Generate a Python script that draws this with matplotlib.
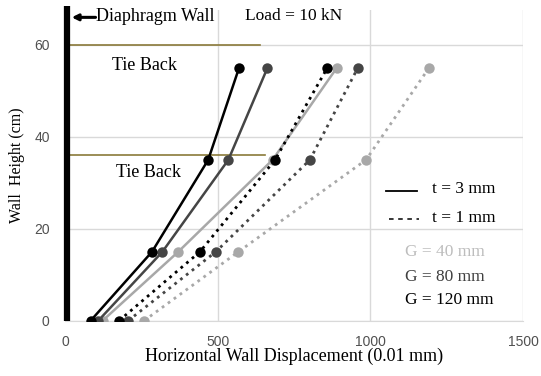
import matplotlib
matplotlib.use("Agg")
import matplotlib.pyplot as plt

# Wall height (cm) of the measuring points
heights = [0, 15, 35, 55]

# Horizontal displacement (0.01 mm) for each test case
t3_g120 = [84, 285, 469, 570]
t3_g80 = [109, 319, 535, 663]
t3_g40 = [123, 371, 680, 890]
t1_g120 = [177, 442, 688, 859]
t1_g80 = [207, 494, 802, 959]
t1_g40 = [259, 568, 986, 1192]

tie_back_levels = [60, 36]
tie_back_ends = [640, 655]

x_ticks = [0, 500, 1000, 1500]
y_ticks = [0, 20, 40, 60]

BLACK = "#000000"
DARK = "#454545"
LIGHT = "#a8a8a8"
SERIF = "Liberation Serif"
SANS = "Liberation Sans"

fig = plt.figure(figsize=(5.41, 3.76), dpi=100)
ax = fig.add_axes([65 / 541, 55.3 / 376, (523 - 65) / 541, (320.7 - 10) / 376])
ax.set_xlim(0, 1500)
ax.set_ylim(0, 67.6)

ax.set_xticks(x_ticks)
ax.set_yticks(y_ticks)
ax.grid(True, color="#d9d9d9", linewidth=1.0)
ax.set_axisbelow(True)
for side in ["top", "right", "left"]:
    ax.spines[side].set_visible(False)
ax.spines["bottom"].set_color("#d9d9d9")
ax.tick_params(axis="x", length=0, labelsize=10, colors="#505050", pad=10)
ax.tick_params(axis="y", length=0, labelsize=10, colors="#505050", pad=11)
for lbl in ax.get_xticklabels() + ax.get_yticklabels():
    lbl.set_family(SANS)

# tie back anchors
for lvl, xe in zip(tie_back_levels, tie_back_ends):
    ax.plot([0, xe], [lvl, lvl], color="#8a7a3a", linewidth=1.2, zorder=2)

series = [
    (t3_g40, LIGHT, "-"),
    (t1_g40, LIGHT, ":"),
    (t3_g80, DARK, "-"),
    (t1_g80, DARK, ":"),
    (t1_g120, BLACK, ":"),
    (t3_g120, BLACK, "-"),
]
for xs, col, ls in series:
    ax.plot(xs, heights, color=col, linestyle=ls, linewidth=1.8 if ls == "-" else 2.0,
            marker="o", markersize=7.5, markeredgewidth=0, zorder=3)

# diaphragm wall
ax.plot([5, 5], [0, 68.5], color=BLACK, linewidth=4.5, clip_on=False, zorder=4,
        solid_capstyle="butt")
ax.annotate("", xy=(22, 66.0), xytext=(100, 66.0),
            arrowprops=dict(arrowstyle="-|>", color=BLACK, lw=2.2,
                            mutation_scale=9, shrinkA=0, shrinkB=0),
            annotation_clip=False)
ax.text(103, 66.2, "Diaphragm Wall", family=SERIF, fontsize=13, va="center", ha="left")
ax.text(590, 66.4, "Load = 10 kN", family=SERIF, fontsize=12.5, va="center", ha="left")
ax.text(262, 55.6, "Tie Back", family=SERIF, fontsize=13, va="center", ha="center")
ax.text(272, 32.2, "Tie Back", family=SERIF, fontsize=13, va="center", ha="center")

# custom legend
ax.plot([1051, 1152], [28.3, 28.3], color=BLACK, linewidth=1.3)
ax.plot([1060, 1160], [22.2, 22.2], color=BLACK, linewidth=1.1, linestyle=(0, (3, 3)))
ax.text(1202, 28.6, "t = 3 mm", family=SERIF, fontsize=12.5, va="center", ha="left")
ax.text(1202, 22.4, "t = 1 mm", family=SERIF, fontsize=12.5, va="center", ha="left")
ax.text(1114, 15.0, "G = 40 mm", family=SERIF, fontsize=12.5, va="center", ha="left", color="#bdbdbd")
ax.text(1114, 9.6, "G = 80 mm", family=SERIF, fontsize=12.5, va="center", ha="left", color="#404040")
ax.text(1114, 4.4, "G = 120 mm", family=SERIF, fontsize=12.5, va="center", ha="left", color=BLACK)

ax.set_xlabel("Horizontal Wall Displacement (0.01 mm)", family=SERIF, fontsize=13, labelpad=-1)
ax.set_ylabel("Wall  Height (cm)", family=SERIF, fontsize=11.5)
ax.yaxis.set_label_coords(-0.088, 0.5)

fig.savefig("out.png", dpi=100)
